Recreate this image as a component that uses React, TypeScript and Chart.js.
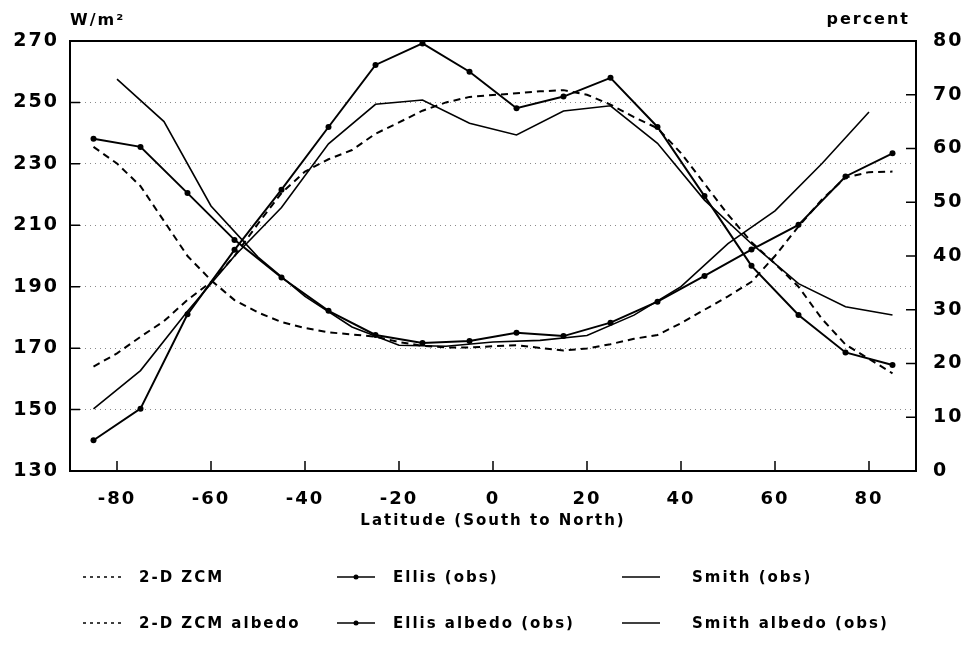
import React, { useEffect, useRef } from 'react';
import { Chart, registerables } from 'chart.js';

Chart.register(...registerables);

// Latitude grids
const latOdd = [-85, -75, -65, -55, -45, -35, -25, -15, -5, 5, 15, 25, 35, 45, 55, 65, 75, 85];
const latEven = [-80, -70, -60, -50, -40, -30, -20, -10, 0, 10, 20, 30, 40, 50, 60, 70, 80];
const latZcm = [-85, -80, -75, -70, -65, -60, -55, -50, -45, -40, -35, -30, -25, -20, -15, -10, -5, 0, 5, 10, 15, 20, 25, 30, 35, 40, 45, 50, 55, 60, 65, 70, 75, 80, 85];

// Outgoing longwave (W/m2, left axis)
const zcmOlr = [164.0, 168.3, 173.7, 178.8, 185.7, 191.5, 200.0, 210.5, 220.5, 227.5, 231.5, 234.5, 239.8, 243.5, 247.3, 250.0, 251.8, 252.4, 253.0, 253.6, 254.0, 252.5, 249.3, 245.2, 241.6, 233.5, 223.5, 213.5, 204.5, 197.5, 190.0, 179.5, 171.2, 166.5, 161.8];
const ellisOlr = [140.0, 150.3, 181.0, 202.0, 221.6, 242.0, 262.2, 269.2, 260.0, 248.1, 251.9, 258.0, 242.0, 219.5, 196.8, 180.8, 168.6, 164.5];
const smithOlr = [150.2, 162.7, 182.0, 200.0, 215.8, 236.5, 249.4, 250.8, 243.2, 239.4, 247.2, 248.9, 236.7, 218.2, 204.0, 191.0, 183.5, 180.8];

// Albedo (percent, right axis)
const zcmAlbedo = [60.3, 57.2, 53.0, 46.5, 40.0, 35.5, 31.8, 29.5, 27.7, 26.6, 25.8, 25.4, 25.0, 24.0, 23.3, 23.0, 23.0, 23.2, 23.4, 22.9, 22.4, 22.8, 23.6, 24.6, 25.3, 27.5, 30.0, 32.5, 35.2, 40.0, 45.5, 50.5, 54.6, 55.6, 55.7];
const ellisAlbedo = [61.8, 60.3, 51.7, 43.0, 36.0, 29.8, 25.3, 23.8, 24.2, 25.7, 25.1, 27.6, 31.5, 36.3, 41.2, 45.8, 54.8, 59.1];
const smithAlbedo = [72.9, 65.0, 49.3, 39.8, 32.5, 26.8, 23.4, 23.2, 24.0, 24.3, 25.2, 29.0, 34.3, 42.3, 48.4, 57.2, 66.8];

// Ticks and labels
const xTicks = [-80, -60, -40, -20, 0, 20, 40, 60, 80];
const leftTicks = [130, 150, 170, 190, 210, 230, 250, 270];
const rightTicks = [0, 10, 20, 30, 40, 50, 60, 70, 80];
const seriesLabels = ['2-D ZCM', 'Ellis (obs)', 'Smith (obs)', '2-D ZCM albedo', 'Ellis albedo (obs)', 'Smith albedo (obs)'];
const xTitle = 'Latitude (South to North)';
const leftUnit = 'W/m\u00B2';
const rightUnit = 'percent';

const FAMILY = "'DejaVu Sans', 'Liberation Sans', sans-serif";

const pts = (xs: number[], ys: number[]) => xs.map((x, i) => ({ x, y: ys[i] }));

const decorPlugin = {
  id: 'decor',
  beforeDraw(chart: any) {
    (chart.ctx as any).letterSpacing = '2px';
  },
  afterDraw(chart: any) {
    const ctx = chart.ctx as CanvasRenderingContext2D;
    const a = chart.chartArea;
    const sx = chart.scales.x;
    const sy = chart.scales.y;
    const sy1 = chart.scales.y1;
    ctx.save();
    ctx.strokeStyle = '#000';
    ctx.setLineDash([]);
    // frame
    ctx.lineWidth = 2;
    ctx.strokeRect(a.left, a.top, a.right - a.left, a.bottom - a.top);
    // inward ticks
    ctx.lineWidth = 1.5;
    ctx.beginPath();
    xTicks.forEach((v) => {
      const px = sx.getPixelForValue(v);
      ctx.moveTo(px, a.bottom);
      ctx.lineTo(px, a.bottom - 10);
    });
    rightTicks.forEach((v) => {
      if (v === 0 || v === 80) return;
      const py = sy1.getPixelForValue(v);
      ctx.moveTo(a.right, py);
      ctx.lineTo(a.right - 10, py);
    });
    leftTicks.forEach((v) => {
      if (v === 130 || v === 270) return;
      const py = sy.getPixelForValue(v);
      ctx.moveTo(a.left, py);
      ctx.lineTo(a.left + 10, py);
    });
    ctx.stroke();

    // unit labels
    (ctx as any).letterSpacing = '2px';
    ctx.fillStyle = '#000';
    ctx.font = `bold 16px ${FAMILY}`;
    ctx.textBaseline = 'alphabetic';
    ctx.textAlign = 'left';
    ctx.fillText(leftUnit, a.left, a.top - 16);
    ctx.textAlign = 'right';
    ctx.fillText(rightUnit, a.right - 6, a.top - 17);

    // legend
    const sampleX = [83, 337, 622];
    const textX = [139, 393, 692];
    const rowY = [577, 623];
    const ds = chart.data.datasets;
    ds.forEach((d: any, i: number) => {
      const r = Math.floor(i / 3);
      const c = i % 3;
      const y = rowY[r];
      const x0 = sampleX[c];
      const x1 = x0 + 38;
      ctx.save();
      ctx.strokeStyle = '#000';
      ctx.lineWidth = 1.6;
      ctx.setLineDash(d.borderDash && d.borderDash.length ? [3, 4] : []);
      ctx.beginPath();
      ctx.moveTo(x0, y);
      ctx.lineTo(x1, y);
      ctx.stroke();
      if (d.pointRadius > 0) {
        ctx.beginPath();
        ctx.arc((x0 + x1) / 2, y, 2.5, 0, Math.PI * 2);
        ctx.fillStyle = '#000';
        ctx.fill();
      }
      ctx.restore();
      ctx.fillStyle = '#000';
      ctx.font = `bold 15px ${FAMILY}`;
      ctx.textAlign = 'left';
      ctx.textBaseline = 'middle';
      (ctx as any).letterSpacing = '2px';
      ctx.fillText(d.label, textX[c], y + 1);
    });
    ctx.restore();
  },
};

export default function App() {
  const ref = useRef<HTMLCanvasElement | null>(null);
  useEffect(() => {
    const canvas = ref.current;
    if (!canvas) return;
    const tickFont = (size: number) => ({ family: FAMILY, size, weight: 'bold' as const });
    const chart = new Chart(canvas, {
      type: 'line',
      data: {
        datasets: [
          { label: seriesLabels[0], data: pts(latZcm, zcmOlr), yAxisID: 'y', borderColor: '#000', borderWidth: 2, borderDash: [7, 5], pointRadius: 0, tension: 0 },
          { label: seriesLabels[1], data: pts(latOdd, ellisOlr), yAxisID: 'y', borderColor: '#000', borderWidth: 2, pointRadius: 3, pointBackgroundColor: '#000', pointBorderWidth: 0, tension: 0 },
          { label: seriesLabels[2], data: pts(latOdd, smithOlr), yAxisID: 'y', borderColor: '#000', borderWidth: 1.6, pointRadius: 0, tension: 0 },
          { label: seriesLabels[3], data: pts(latZcm, zcmAlbedo), yAxisID: 'y1', borderColor: '#000', borderWidth: 2, borderDash: [7, 5], pointRadius: 0, tension: 0 },
          { label: seriesLabels[4], data: pts(latOdd, ellisAlbedo), yAxisID: 'y1', borderColor: '#000', borderWidth: 2, pointRadius: 3, pointBackgroundColor: '#000', pointBorderWidth: 0, tension: 0 },
          { label: seriesLabels[5], data: pts(latEven, smithAlbedo), yAxisID: 'y1', borderColor: '#000', borderWidth: 1.6, pointRadius: 0, tension: 0 },
        ] as any,
      },
      options: {
        responsive: false,
        animation: false,
        devicePixelRatio: 1,
        layout: { padding: { top: 41, bottom: 117, left: 0, right: 0 } },
        plugins: { legend: { display: false }, tooltip: { enabled: false } },
        scales: {
          x: {
            type: 'linear',
            position: 'bottom',
            min: -90,
            max: 90,
            afterBuildTicks: (s: any) => { s.ticks = xTicks.map((v) => ({ value: v })); },
            afterFit: (s: any) => { s.height = 59; },
            grid: { display: false },
            border: { display: false },
            ticks: { color: '#000', font: tickFont(18), padding: 10, maxRotation: 0, autoSkip: false },
            title: { display: true, text: xTitle, color: '#000', font: tickFont(15), padding: 0 },
          },
          y: {
            type: 'linear',
            position: 'left',
            min: 130,
            max: 270,
            afterBuildTicks: (s: any) => { s.ticks = leftTicks.map((v) => ({ value: v })); },
            afterFit: (s: any) => { s.width = 70; },
            grid: {
              display: true,
              drawTicks: false,
              lineWidth: 1,
              color: (c: any) => (c.tick && (c.tick.value === 130 || c.tick.value === 270) ? 'rgba(0,0,0,0)' : '#8a8a8a'),
            },
            border: { display: false, dash: [1, 4] },
            ticks: { color: '#000', font: tickFont(19), padding: 11 },
          },
          y1: {
            type: 'linear',
            position: 'right',
            min: 0,
            max: 80,
            afterBuildTicks: (s: any) => { s.ticks = rightTicks.map((v) => ({ value: v })); },
            afterFit: (s: any) => { s.width = 48; },
            grid: { display: false, drawOnChartArea: false },
            border: { display: false },
            ticks: { color: '#000', font: tickFont(19), padding: 9 },
          },
        },
      } as any,
      plugins: [decorPlugin],
    });
    return () => chart.destroy();
  }, []);
  return (
    <div style={{ position: 'absolute', left: 0, top: 0, width: 964, height: 647, background: '#fff' }}>
      <canvas ref={ref} width={964} height={647} style={{ display: 'block', width: 964, height: 647 }} />
    </div>
  );
}
